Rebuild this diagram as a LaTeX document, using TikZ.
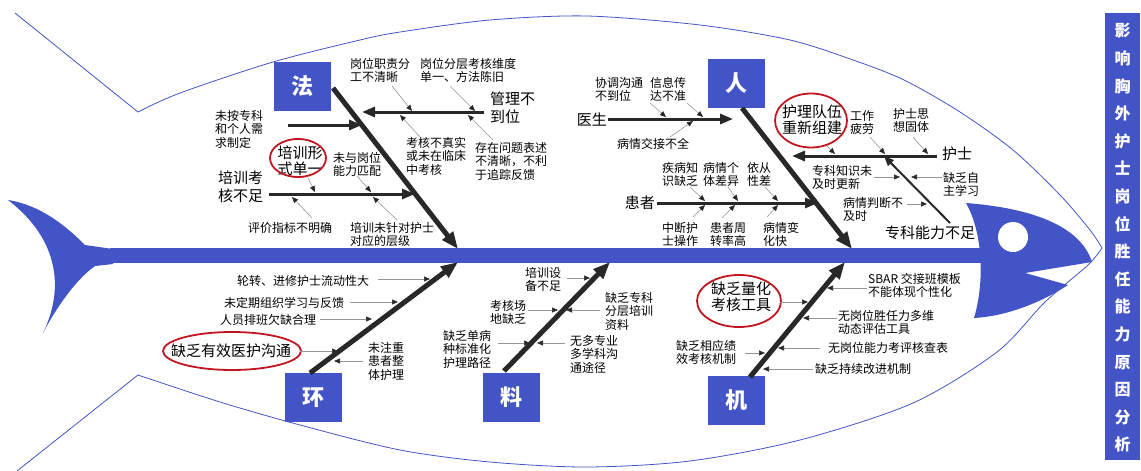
\documentclass[tikz,border=0pt]{standalone}
\usepackage{fontspec}
\setmainfont{Noto Sans CJK SC}
\usetikzlibrary{arrows.meta}
\definecolor{fishblue}{RGB}{66,84,198}
\definecolor{bone}{RGB}{40,40,40}
\definecolor{hl}{RGB}{192,22,32}
\definecolor{twiggray}{RGB}{150,150,150}
\tikzset{
  cat/.style={fill=fishblue, text=white, font=\fontsize{22}{22}\selectfont\bfseries, minimum width=57pt, minimum height=49pt, inner sep=0pt},
  mainbone/.style={draw=bone, line width=5pt, -{Triangle[length=17pt,width=13pt]}},
  subbone/.style={draw=bone, line width=3pt, -{Triangle[length=13pt,width=10pt]}},
  twig/.style={draw=twiggray, line width=0.6pt, -{Triangle[length=6pt,width=5pt,color=bone]}},
  sm/.style={font=\fontsize{12}{13.5}\selectfont, align=left, inner sep=0pt, anchor=north west},
  bg/.style={font=\fontsize{15}{18}\selectfont, align=left, inner sep=0pt},
  ovtext/.style={font=\fontsize{15}{16}\selectfont, align=center, inner sep=0pt},
  ring/.style={draw=hl, line width=1.8pt},
  outline/.style={draw=fishblue, line width=0.8pt}
}
\begin{document}
\begin{tikzpicture}[x=1pt,y=-1pt]
\useasboundingbox (0,0) rectangle (1141,471);
% ---------- fish body ----------
\draw[outline] (15,13) -- (138,112);
\draw[outline] (138,375) -- (17,471);
\draw[outline] plot[smooth] coordinates {(138,112) (180,93) (273,62) (360,40) (400,32) (490,20) (587,16) (700,25) (790,40) (853,60) (904,80) (960,112) (1013,150) (1060,195) (1090,230) (1102,248)};
\draw[outline] plot[smooth] coordinates {(138,375) (220,402) (300,425) (400,450) (490,462) (587,467) (690,461) (800,440) (913,403) (997,352) (1045,302) (1088,265) (1102,248)};
% tail
\fill[fishblue] (8,200) .. controls (40,205) and (65,225) .. (85,245) -- (113,249) -- (113,264) -- (95,266)
  .. controls (75,280) and (55,310) .. (43,333) .. controls (64,290) and (60,240) .. (8,200) -- cycle;
% spine
\fill[fishblue] (110,248) rectangle (985,263);
% head
\fill[fishblue] (966,203) .. controls (1030,208) and (1080,225) .. (1092,262) -- (1025,273) -- (1068,285)
  .. controls (1045,300) and (1010,316) .. (974,318) .. controls (984,285) and (984,235) .. (966,203) -- cycle;
\fill[white] (1013,237) circle[radius=15pt];
% ---------- title bar ----------
\node[fill=fishblue, minimum width=35pt, minimum height=447pt, inner sep=0pt, anchor=north west] (bar) at (1105,13) {};
\node[text=white, font=\fontsize{16}{27.6}\selectfont\bfseries, align=center, inner sep=0pt] (title) at (1122.5,238)
  {影\\响\\胸\\外\\护\\士\\岗\\位\\胜\\任\\能\\力\\原\\因\\分\\析};
% ---------- category boxes ----------
\node[cat] (fa) at (302.5,86.5) {法};
\node[cat] (ren) at (736,83.5) {人};
\node[cat] (huan) at (313.5,397.5) {环};
\node[cat] (liao) at (511,397.5) {料};
\node[cat] (ji) at (736.5,400) {机};
% ---------- main bones ----------
\coordinate (faS) at (333,88);   \coordinate (faE) at (458,249);
\coordinate (renS) at (742,108); \coordinate (renE) at (852,249);
\coordinate (huanS) at (310,373); \coordinate (huanE) at (458,262);
\coordinate (liaoS) at (504,371); \coordinate (liaoE) at (610,262);
\coordinate (jiS) at (750,377);  \coordinate (jiE) at (845,262);
\draw[mainbone] (faS) -- (faE);
\draw[mainbone] (renS) -- (renE);
\draw[mainbone] (huanS) -- (huanE);
\draw[mainbone] (liaoS) -- (liaoE);
\draw[mainbone] (jiS) -- (jiE);
% ---------- sub bones ----------
\node[bg, anchor=north west] (glbdw) at (490,92) {管理不\\到位};
\coordinate (gl1) at (484,112); \coordinate (gl2) at (362,112);
\draw[subbone] (gl1) -- (gl2);
\node[sm] (wazk) at (215,110) {未按专科\\和个人需\\求制定};
\coordinate (wa1) at (288,125); \coordinate (wa2) at (362,125);
\draw[subbone] (wa1) -- (wa2);
\node[bg, anchor=north west] (pxkh) at (218,171) {培训考\\核不足};
\coordinate (px1) at (269,194); \coordinate (px2) at (415,194);
\draw[subbone] (px1) -- (px2);
\node[bg, anchor=east] (ys) at (607,120) {医生};
\coordinate (ys1) at (608,119); \coordinate (ys2) at (733,119);
\draw[subbone] (ys1) -- (ys2);
\node[bg, anchor=east] (hz) at (655,203) {患者};
\coordinate (hz1) at (657,203); \coordinate (hz2) at (818,203);
\draw[subbone] (hz1) -- (hz2);
\node[bg, anchor=west] (hs) at (942,154) {护士};
\coordinate (hs1) at (937,156); \coordinate (hs2) at (792,156);
\draw[subbone] (hs1) -- (hs2);
\node[bg, anchor=north west] (zknl) at (885,226) {专科能力不足};
\coordinate (zk1) at (950,223); \coordinate (zk2) at (884,156);
\draw[draw=bone, line width=2pt, -{Triangle[length=10pt,width=8pt]}] (zk1) -- (zk2);
% ---------- small labels ----------
\node[sm] (t1) at (350,58) {岗位职责分\\工不清晰};
\node[sm] (t2) at (420,58) {岗位分层考核维度\\单一、方法陈旧};
\node[sm] (t3) at (406,137) {考核不真实\\或未在临床\\中考核};
\node[sm] (t4) at (475,142) {存在问题表述\\不清晰，不利\\于追踪反馈};
\node[sm] (t6) at (333,152) {未与岗位\\能力匹配};
\node[sm] (t7) at (248,222) {评价指标不明确};
\node[sm] (t8) at (350,222) {培训未针对护士\\对应的层级};
\node[sm] (t9) at (595,77) {协调沟通\\不到位};
\node[sm] (t10) at (650,77) {信息传\\达不准};
\node[sm] (t11) at (617,138) {病情交接不全};
\node[sm] (t12) at (662,162) {疾病知\\识缺乏};
\node[sm] (t13) at (703,162) {病情个\\体差异};
\node[sm] (t14) at (747,162) {依从\\性差};
\node[sm] (t15) at (662,222) {中断护\\士操作};
\node[sm] (t16) at (710,222) {患者周\\转率高};
\node[sm] (t17) at (763,222) {病情变\\化快};
\node[sm] (t19) at (850,110) {工作\\疲劳};
\node[sm] (t20) at (893,108) {护士思\\想固体};
\node[sm] (t21) at (812,165) {专科知识未\\及时更新};
\node[sm] (t22) at (943,172) {缺乏自\\主学习};
\node[sm] (t23) at (843,197) {病情判断不\\及时};
\node[sm] (t24) at (237,275) {轮转、进修护士流动性大};
\node[sm] (t25) at (224,297) {未定期组织学习与反馈};
\node[sm] (t26) at (220,314) {人员排班欠缺合理};
\node[sm] (t28) at (368,342) {未注重\\患者整\\体护理};
\node[sm] (t29) at (525,267) {培训设\\备不足};
\node[sm] (t30) at (490,300) {考核场\\地缺乏};
\node[sm] (t31) at (605,292) {缺乏专科\\分层培训\\资料};
\node[sm] (t32) at (443,330) {缺乏单病\\种标准化\\护理路径};
\node[sm] (t33) at (570,335) {无多专业\\多学科沟\\通途径};
\node[sm] (t35) at (868,273) {SBAR 交接班模板\\不能体现个性化};
\node[sm] (t36) at (838,310) {无岗位胜任力多维\\动态评估工具};
\node[sm] (t37) at (828,342) {无岗位能力考评核查表};
\node[sm] (t38) at (676,340) {缺乏相应绩\\效考核机制};
\node[sm] (t39) at (815,363) {缺乏持续改进机制};
% ---------- highlighted (red ring) labels ----------
\node[ovtext] (o1) at (300,161) {培训形\\式单一};
\draw[ring] (298,158) ellipse [x radius=28pt, y radius=19pt];
\node[ovtext] (o2) at (812,120) {护理队伍\\重新组建};
\draw[ring] (811,120.5) ellipse [x radius=36pt, y radius=27pt];
\node[ovtext] (o3) at (231,351) {缺乏有效医护沟通};
\draw[ring] (232,351) ellipse [x radius=69pt, y radius=19pt];
\node[ovtext] (o4) at (741,297) {缺乏量化\\考核工具};
\draw[ring] (739,301) ellipse [x radius=42pt, y radius=26pt];
% ---------- twigs ----------
\foreach \i/\ax/\ay/\bx/\by in {
  1/392/86/412/111, 2/450/86/475/111, 3/420/137/400/115, 4/493/140/468/115,
  5/308/178/315/192, 6/357/176/371/192, 7/312/218/292/197, 8/397/220/373/197,
  9/650/103/666/117, 10/687/103/703/117, 11/670/137/693/121,
  12/690/187/705/201, 13/728/187/738/201, 14/765/187/778/201,
  15/693/217/705/205, 16/722/218/735/205, 17/767/217/778/205,
  18/827/146/835/154, 19/870/137/885/154, 20/913/137/928/154,
  21/874/177/900/177, 22/942/177/911/177, 23/907/204/927/204,
  24/378/279/430/279, 25/350/302/398/302, 26/320/319/372/319, 27/300/351/338/351, 28/363/361/334/361,
  29/567/278/590/278, 30/528/310/558/310, 31/600/310/566/310, 32/498/343/530/343, 33/565/343/537/343,
  34/780/302/808/302, 35/867/288/827/288, 36/837/318/803/318, 37/820/348/778/348, 38/745/353/765/353, 39/813/369/763/369}
{
  \coordinate (a\i) at (\ax,\ay);
  \coordinate (b\i) at (\bx,\by);
  \draw[twig] (a\i) -- (b\i);
}
\end{tikzpicture}
\end{document}
